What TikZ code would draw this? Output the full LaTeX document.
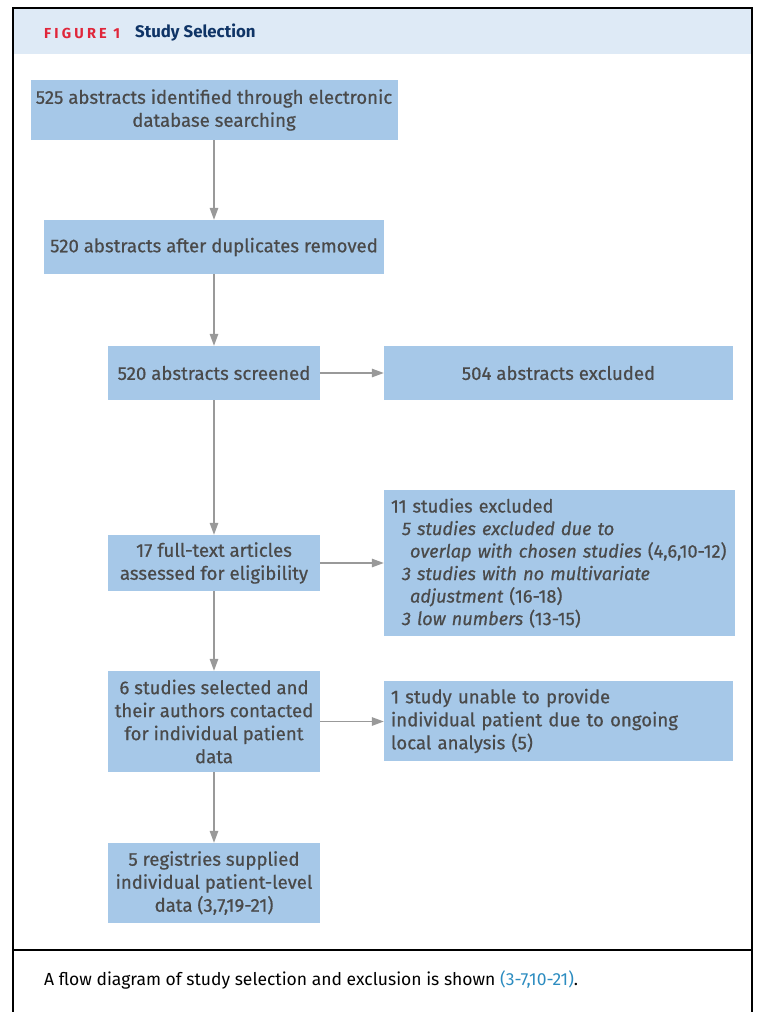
\documentclass[tikz,border=0pt]{standalone}
\usepackage{fontspec}
\setmainfont{Fira Sans}
\usetikzlibrary{arrows.meta}
\definecolor{boxblue}{HTML}{A6C8E8}
\definecolor{txt}{HTML}{4A4A4A}
\definecolor{arrgray}{HTML}{999999}
\definecolor{headbg}{HTML}{DEEAF6}
\definecolor{figred}{HTML}{E0263A}
\definecolor{navy}{HTML}{0F3466}
\definecolor{citeblue}{HTML}{2C8CC0}
\begin{document}
\begin{tikzpicture}[x=1pt,y=-1pt,
  box/.style={fill=boxblue, text=txt, font=\fontsize{18.6}{23}\selectfont\addfontfeature{FakeBold=0.6}, inner sep=0pt, align=center},
  arr/.style={draw=arrgray, line width=1.4pt, -{Triangle[length=12pt,width=8.5pt]}},
  frame/.style={draw=black, line width=1.5pt}]
\useasboundingbox (0,0) rectangle (757,1012);
% frame and header
\fill[headbg] (14,9) rectangle (751,54);
\draw[frame] (13,1012) -- (13,8) -- (752,8) -- (752,1012);
\draw[frame] (13,950) -- (752,950);
\node[anchor=west, inner sep=0pt, font=\bfseries\fontsize{14.5}{17}\selectfont\addfontfeature{LetterSpace=22}, text=figred] (figlabel) at (44,33.5) {FIGURE 1};
\node[anchor=west, inner sep=0pt, font=\bfseries\fontsize{16.8}{20}\selectfont, text=navy] (figtitle) at (135,33) {Study Selection};
\node[anchor=west, inner sep=0pt, font=\fontsize{17.5}{20}\selectfont, text=black] (caption) at (44,980) {A flow diagram of study selection and exclusion is shown \textcolor{citeblue}{(3-7,10-21)}.};
% boxes
\node[box, minimum width=367, minimum height=60] (b1) at (214,110) {525 abstracts identified through electronic\\database searching};
\node[box, minimum width=340, minimum height=54] (b2) at (214,247) {520 abstracts after duplicates removed};
\node[box, minimum width=212, minimum height=54] (b3) at (214,373) {520 abstracts screened};
\node[box, minimum width=349, minimum height=54] (b4) at (558.5,373) {504 abstracts excluded};
\node[box, minimum width=212, minimum height=56] (b5) at (214,563) {17 full-text articles\\assessed for eligibility};
\node[box, minimum width=351, minimum height=146, text width=337, align=left, font=\fontsize{18.2}{22.5}\selectfont\addfontfeature{FakeBold=0.6}] (b6) at (559.5,563) {11 studies excluded\\
\hspace*{11pt}\textit{5 studies excluded due to}\\
\hspace*{19pt}\textit{overlap with chosen studies} (4,6,10-12)\\
\hspace*{11pt}\textit{3 studies with no multivariate}\\
\hspace*{19pt}\textit{adjustment} (16-18)\\
\hspace*{11pt}\textit{3 low numbers} (13-15)};
\node[box, minimum width=212, minimum height=101] (b7) at (214,721.5) {6 studies selected and\\their authors contacted\\for individual patient\\data};
\node[box, minimum width=349, minimum height=80, text width=335, align=left] (b8) at (558.5,721) {1 study unable to provide\\individual patient due to ongoing\\local analysis (5)};
\node[box, minimum width=212, minimum height=80] (b9) at (214,883) {5 registries supplied\\individual patient-level\\data (3,7,19-21)};
% connectors
\draw[arr] (b1) -- (b2);
\draw[arr] (b2) -- (b3);
\draw[arr] (b3) -- (b5);
\draw[arr] (b5) -- (b7);
\draw[arr] (b7) -- (b9);
\draw[arr] (b3) -- (b4);
\draw[arr] (b5) -- (b5 -| b6.west);
\draw[arr] (b7) -- (b7 -| b8.west);
\end{tikzpicture}
\end{document}
